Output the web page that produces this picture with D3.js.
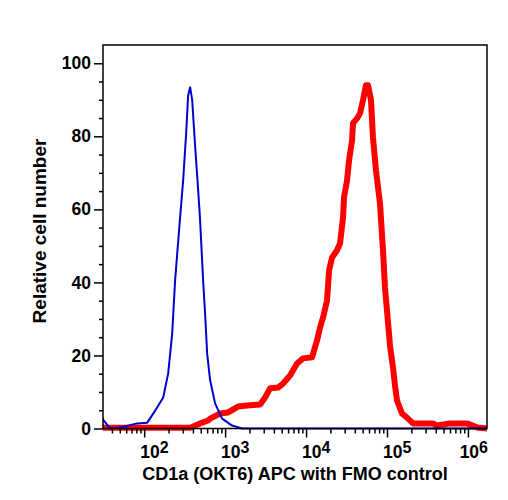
<!DOCTYPE html>
<html>
<head>
<meta charset="utf-8">
<script src="https://cdnjs.cloudflare.com/ajax/libs/d3/7.8.5/d3.min.js"></script>
<style>
  body { margin: 0; background: #fff; }
  text { font-family: "Liberation Sans", Arial, sans-serif; font-weight: bold; fill: #000; }
</style>
</head>
<body>
<script>
// FMO control (blue) and CD1a (OKT6) APC stained (red) histograms
var blueIntensity = [30.3, 38, 51, 82, 109, 137, 172, 198, 222, 241, 256, 278, 303, 330, 349, 370,
                     392, 427, 465, 491, 535, 566, 600, 653, 753, 919, 1220, 1620, 2040, 1720000];
var blueCount = [2.7, 0, 0.3, 1.4, 1.6, 4.9, 8.5, 15.1, 26.0, 40.5, 47.9, 57.8, 67.9, 80.8, 91.2, 93.4,
                 89.9, 77.0, 65.2, 57.0, 40.5, 31.5, 20.5, 13.2, 6.8, 2.7, 0.8, 0, 0, 0];

var redIntensity = [30.3, 370, 491, 617, 653, 867, 1089, 1446, 1869, 2706, 3118, 3594, 4511, 5200,
                    6345, 7740, 9180, 11860, 13670, 14900, 16230, 18170, 19250, 20950, 24150, 26300,
                    28650, 29460, 32090, 33980, 37000, 38060, 42640, 46440, 50580, 55080, 58250,
                    63440, 67100, 73080, 81960, 89260, 94410, 100000, 108900, 118600, 125500,
                    132800, 153100, 176500, 209500, 369900, 414300, 599200, 972800, 1292000, 1718000];
var redCount = [0.2, 0.2, 1.4, 2.2, 2.7, 4.1, 4.4, 6.0, 6.3, 6.6, 8.5, 11.0, 11.2, 12.3,
                14.5, 17.8, 19.2, 19.5, 24.1, 27.7, 30.4, 35.1, 43.3, 46.8, 48.8, 50.7,
                57.8, 63.3, 67.9, 73.4, 78.9, 83.6, 84.9, 86.3, 89.9, 94.0, 94.0,
                89.9, 79.7, 70.7, 61.6, 48.8, 38.6, 32.3, 22.7, 16.7, 11.8,
                7.7, 4.1, 3.0, 1.4, 1.4, 0.8, 1.4, 1.4, 0.3, 0];

var yTicks = [0, 20, 40, 60, 80, 100];
var xTickExps = [2, 3, 4, 5, 6];
var xTitle = "CD1a (OKT6) APC with FMO control";
var yTitle = "Relative cell number";

var plotLeft = 103, plotRight = 487, plotTop = 45, plotBottom = 428.5;

var x = d3.scaleLog().domain([31, 1.72e6]).range([plotLeft, plotRight]);
var y = d3.scaleLinear().domain([0, 105]).range([plotBottom, plotTop]);

var svg = d3.select("body").append("svg")
    .attr("width", 508)
    .attr("height", 500);

svg.append("clipPath").attr("id", "plot")
  .append("rect")
    .attr("x", plotLeft).attr("y", plotTop - 10)
    .attr("width", plotRight - plotLeft).attr("height", plotBottom - plotTop + 14);

function line(xs, ys) {
  return d3.line()
      .x(function(d) { return x(xs[d]); })
      .y(function(d) { return y(ys[d]); })(d3.range(xs.length));
}

// red first, blue drawn over it
svg.append("path")
    .attr("d", line(redIntensity, redCount))
    .attr("clip-path", "url(#plot)")
    .attr("fill", "none")
    .attr("stroke", "#ff0000")
    .attr("stroke-width", 6)
    .attr("stroke-linejoin", "round");

svg.append("path")
    .attr("d", line(blueIntensity, blueCount))
    .attr("clip-path", "url(#plot)")
    .attr("fill", "none")
    .attr("stroke", "#0000d0")
    .attr("stroke-width", 2)
    .attr("stroke-linejoin", "round");

// frame
svg.append("rect")
    .attr("x", plotLeft).attr("y", plotTop)
    .attr("width", plotRight - plotLeft).attr("height", plotBottom - plotTop)
    .attr("fill", "none")
    .attr("stroke", "#000")
    .attr("stroke-width", 1.5);

// Y axis: major + minor ticks
var yMinor = d3.range(0, 105, 5).filter(function(v) { return v % 20 != 0; });
var gy = svg.append("g").attr("transform", "translate(" + plotLeft + ",0)");
gy.append("g")
    .call(d3.axisLeft(y).tickValues(yTicks).tickSize(9).tickPadding(3).tickFormat(d3.format("d")))
    .call(function(g) { g.select(".domain").remove(); });
gy.append("g")
    .call(d3.axisLeft(y).tickValues(yMinor).tickSize(4).tickFormat(""))
    .call(function(g) { g.select(".domain").remove(); });
gy.selectAll("line").attr("stroke-width", 1.5);
gy.selectAll("text")
    .style("font-size", "17.5px")
    .style("font-family", "Liberation Sans, Arial, sans-serif")
    .style("font-weight", "bold");

// X axis: decades + minor ticks
var xMajor = xTickExps.map(function(e) { return Math.pow(10, e); });
var xMinor = [];
[1, 2, 3, 4, 5, 6].forEach(function(e) {
  for (var m = 2; m <= 9; m++) {
    var v = m * Math.pow(10, e);
    if (v > x.domain()[0] && v < x.domain()[1]) xMinor.push(v);
  }
});
var gx = svg.append("g").attr("transform", "translate(0," + plotBottom + ")");
gx.append("g")
    .call(d3.axisBottom(x).tickValues(xMajor).tickSize(9).tickFormat(""))
    .call(function(g) { g.select(".domain").remove(); });
gx.append("g")
    .call(d3.axisBottom(x).tickValues(xMinor).tickSize(5).tickFormat(""))
    .call(function(g) { g.select(".domain").remove(); });
gx.selectAll("line").attr("stroke-width", 1.5);

xTickExps.forEach(function(e) {
  var t = svg.append("text")
      .attr("x", x(Math.pow(10, e)) - 4)
      .attr("y", 458)
      .style("font-size", "17.5px");
  t.append("tspan").text("10");
  t.append("tspan").attr("dy", -5).style("font-size", "16px").text(e);
  var w = t.node().getComputedTextLength();
  var x0 = +t.attr("x");
  if (x0 + w > plotRight + 1) t.attr("x", plotRight + 1 - w);
});

// titles
svg.append("text")
    .attr("x", 295)
    .attr("y", 480)
    .attr("text-anchor", "middle")
    .style("font-size", "18px")
    .text(xTitle);

svg.append("text")
    .attr("transform", "translate(46,231) rotate(-90)")
    .attr("text-anchor", "middle")
    .style("font-size", "19px")
    .text(yTitle);
</script>
</body>
</html>
